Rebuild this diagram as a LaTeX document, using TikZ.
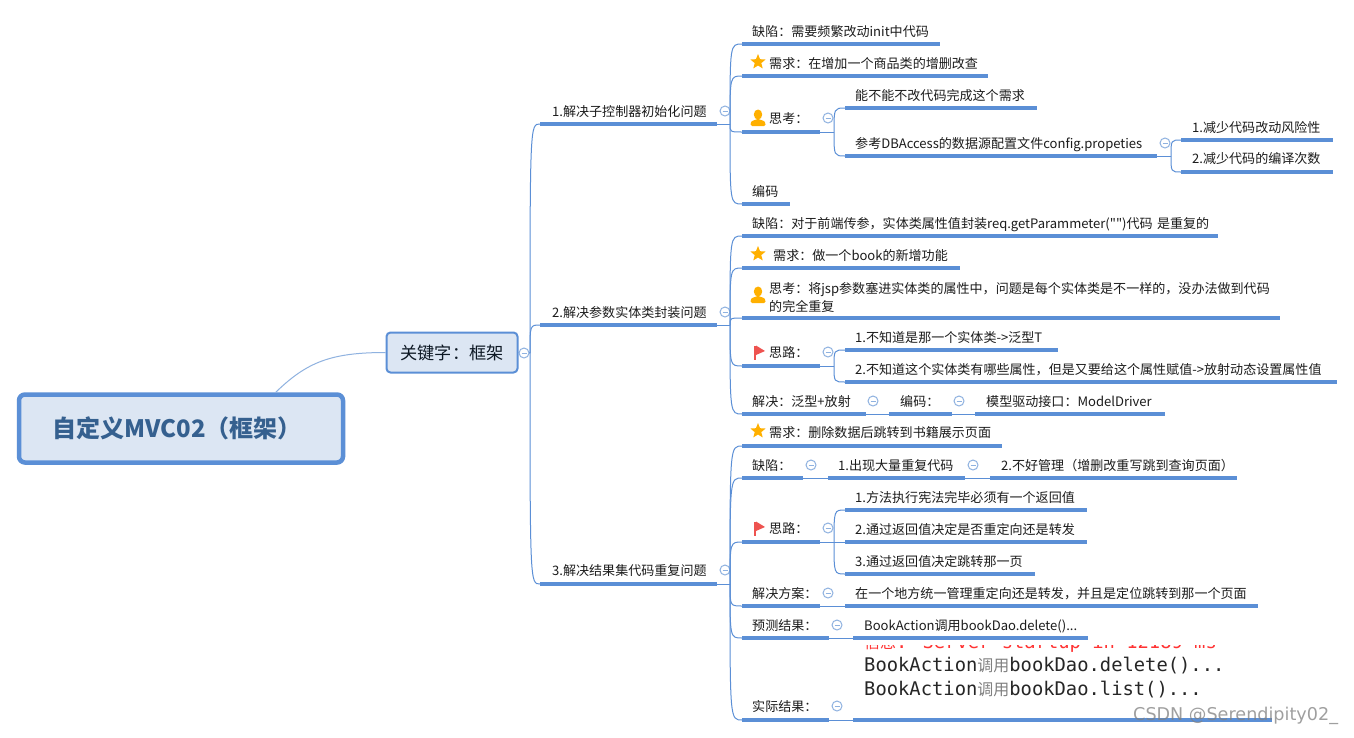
\documentclass[tikz,border=0pt]{standalone}
\usepackage{fontspec}
\setmainfont{Noto Sans CJK SC}
\newfontfamily\cjkf{Noto Sans CJK SC}
\newfontfamily\monof{DejaVu Sans Mono}
\newfontfamily\wmf{DejaVu Sans}
\usetikzlibrary{shapes.geometric,calc}
\definecolor{mblue}{HTML}{5B8FD6}
\definecolor{cblue}{HTML}{8FB2E0}
\definecolor{pale}{HTML}{DCE6F3}
\definecolor{rootink}{HTML}{35608F}
\definecolor{ink}{HTML}{1C1C1C}
\definecolor{amber}{HTML}{FFB000}
\definecolor{flagred}{HTML}{EE5350}
\tikzset{
  topicnode/.style={draw=none,inner sep=0pt,anchor=south west,align=left,text=ink,
    font=\fontsize{13.05}{18}\selectfont,text height=12pt,text depth=0pt},
  uline/.style={draw=mblue,line width=3.2pt},
  thinl/.style={draw=mblue,line width=1pt},
  coll/.style={circle,draw=cblue,fill=white,line width=1pt,minimum size=10pt,inner sep=0pt,
    path picture={\draw[cblue,line width=1pt] ([xshift=2.5pt]path picture bounding box.west) -- ([xshift=-2.5pt]path picture bounding box.east);}},
  rootbox/.style={draw=mblue,fill=pale,line width=4.5pt,rounded corners=6pt,minimum width=324pt,minimum height=68pt,
    inner sep=0pt,text=rootink,font=\fontsize{24}{28}\bfseries\selectfont},
  subbox/.style={draw=mblue,fill=pale,line width=2pt,rounded corners=4pt,minimum width=131pt,minimum height=40pt,
    inner sep=0pt,text=black!75!rootink,font=\fontsize{17.2}{20}\selectfont},
  shot/.style={inner sep=0pt,anchor=base west,font=\monof\fontsize{18.8}{22}\selectfont,text=black!85},
  starmark/.pic={\node[star,star points=5,star point ratio=2.3,fill=amber,inner sep=0pt,minimum size=16pt] at (0,-1) {};},
  personmark/.pic={\fill[amber] (0,-3.5) ellipse (4.2pt and 5pt);
    \fill[amber,rounded corners=1.5pt] (-7.5,8) -- (-7.5,5) .. controls (-6,2.5) and (-3,2) .. (-2,1) -- (2,1) .. controls (3,2) and (6,2.5) .. (7.5,5) -- (7.5,8) -- cycle;},
  flagmark/.pic={\fill[flagred] (-4,-6.5) rectangle (-2,8); \fill[flagred] (-2,-6.5) -- (7,-1) -- (-2,3) -- cycle;}
}
% name, x1, x2, y of rule, y of text centre, x of text, text
\newcommand{\tp}[8][]{%
  \pgfmathsetmacro{\tpw}{#4-#3}\pgfmathsetmacro{\tph}{2*(#5-#6)}\pgfmathsetmacro{\tpd}{#7-#3}%
  \node[topicnode,text width=\tpw pt,minimum height=\tph pt,#1] (#2) at (#3,#5) {\hspace*{\tpd pt}#8};
  \draw[uline] (#2.south west) -- (#2.south east);}
% spine coordinate, child node
\newcommand{\conn}[2]{\draw[thinl] (#1) .. controls (#1 |- #2.south west) and (#1 |- #2.south west) .. (#2.south west);}
\begin{document}
\begin{tikzpicture}[x=1pt,y=-1pt]
\useasboundingbox (0,0) rectangle (1354,737);
\fill[white] (0,0) rectangle (1354,737);
% root and key node
\node[rootbox] (root) at (181,428.5) {\hspace*{-8pt}\raisebox{-1pt}{自定义MVC02（框架）}};
\node[subbox] (key) at (452,352.5) {关键字：框架};
\draw[thinl,cblue] ($(root.north west)+(259,0)$) .. controls ($(root.north west)+(290,-30)$) and ($(key.west)+(-55,0)$) .. (key.west);
\coordinate (sp0) at (530,353);
\draw[thinl] (key.east) -- (sp0);
\node[coll] (c0) at (524,353) {};

% ---------- level 1
\tp{t1}{540}{717}{124}{111}{552}{1.解决子控制器初始化问题}
\tp{t2}{540}{717}{325}{312}{552}{2.解决参数实体类封装问题}
\tp{t3}{540}{717}{584}{570}{552}{3.解决结果集代码重复问题}
\conn{sp0}{t1}\conn{sp0}{t2}\conn{sp0}{t3}
\node[coll] (c1) at (725,111) {};
\node[coll] (c2) at (725,312) {};
\node[coll] (c3) at (725,570) {};
\coordinate (s1) at (730,124);\coordinate (s2) at (730,325);\coordinate (s3) at (730,584);
\draw[thinl] (t1.south east) -- (s1);
\draw[thinl] (t2.south east) -- (s2);
\draw[thinl] (t3.south east) -- (s3);

% ---------- group 1
\tp{a1}{742}{940}{44}{31}{752}{缺陷：需要频繁改动init中代码}
\tp{a2}{742}{988}{76}{63}{769}{需求：在增加一个商品类的增删改查}
\tp{a3}{742}{820}{132}{118}{769}{思考：}
\tp{a4}{742}{790}{204}{191}{752}{编码}
\conn{s1}{a1}\conn{s1}{a2}\conn{s1}{a3}\conn{s1}{a4}
\pic at (758,63) {starmark};
\pic at (758,118) {personmark};
\node[coll] (ca3) at (828,118) {};
\coordinate (sa3) at (834,132);
\draw[thinl] (a3.south east) -- (sa3);
\tp{a31}{845}{1037}{108}{95}{855}{能不能不改代码完成这个需求}
\tp{a32}{845}{1157}{156}{143}{855}{参考DBAccess的数据源配置文件config.propeties}
\conn{sa3}{a31}\conn{sa3}{a32}
\node[coll] (ca32) at (1165,143) {};
\coordinate (sa32) at (1171,156);
\draw[thinl] (a32.south east) -- (sa32);
\tp{a321}{1181}{1333}{140}{127}{1192}{1.减少代码改动风险性}
\tp{a322}{1181}{1333}{172}{158}{1192}{2.减少代码的编译次数}
\conn{sa32}{a321}\conn{sa32}{a322}

% ---------- group 2
\tp{b1}{742}{1218}{236}{223}{752}{\mbox{缺陷：对于前端传参，实体类属性值封装req.getParammeter({\cjkf ""})代码 是重复的}}
\tp{b2}{742}{960}{268}{255}{773}{需求：做一个book的新增功能}
\tp[text depth=16pt]{b3}{742}{1280}{318}{296}{769}{思考：将jsp参数塞进实体类的属性中，问题是每个实体类是不一样的，没办法做到代码\\\hspace*{27pt}的完全重复}
\tp{b4}{742}{820}{366}{352}{769}{思路：}
\tp{b5}{742}{866}{414}{401}{752}{解决：泛型+放射}
\conn{s2}{b1}\conn{s2}{b2}\conn{s2}{b3}\conn{s2}{b4}\conn{s2}{b5}
\pic at (758,255) {starmark};
\pic at (758,295) {personmark};
\pic at (758,352) {flagmark};
\node[coll] (cb4) at (828,352) {};
\coordinate (sb4) at (834,366);
\draw[thinl] (b4.south east) -- (sb4);
\tp{b41}{845}{1058}{350}{337}{855}{1.不知道是那一个实体类->泛型T}
\tp{b42}{845}{1337}{382}{369}{855}{2.不知道这个实体类有哪些属性，但是又要给这个属性赋值->放射动态设置属性值}
\conn{sb4}{b41}\conn{sb4}{b42}
\tp{b51}{889}{952}{414}{401}{900}{编码：}
\tp{b52}{975}{1165}{414}{401}{986}{模型驱动接口：ModelDriver}
\draw[thinl] (b5.south east) -- (b51.south west);
\draw[thinl] (b51.south east) -- (b52.south west);
\node[coll] (cb5) at (873,401) {};
\node[coll] (cb51) at (959,401) {};

% ---------- group 3
\tp{d1}{742}{1002}{446}{432}{769}{需求：删除数据后跳转到书籍展示页面}
\tp{d2}{742}{803}{478}{465}{752}{缺陷：}
\tp{d3}{742}{820}{542}{528}{769}{思路：}
\tp{d4}{742}{820}{606}{593}{752}{解决方案：}
\tp{d5}{742}{829}{638}{625}{752}{预测结果：}
\tp{d6}{742}{829}{720}{706}{752}{实际结果：}
\conn{s3}{d1}\conn{s3}{d2}\conn{s3}{d3}\conn{s3}{d4}\conn{s3}{d5}\conn{s3}{d6}
\pic at (758,432) {starmark};
\pic at (758,528) {flagmark};
\tp{d21}{828}{965}{478}{465}{838}{1.出现大量重复代码}
\tp{d22}{990}{1237}{478}{465}{1001}{2.不好管理（增删改重写跳到查询页面）}
\draw[thinl] (d2.south east) -- (d21.south west);
\draw[thinl] (d21.south east) -- (d22.south west);
\node[coll] (cd2) at (811,465) {};
\node[coll] (cd21) at (973,465) {};
\node[coll] (cd3) at (828,528) {};
\coordinate (sd3) at (834,542);
\draw[thinl] (d3.south east) -- (sd3);
\tp{d31}{845}{1087}{510}{497}{855}{1.方法执行宪法完毕必须有一个返回值}
\tp{d32}{845}{1087}{542}{529}{855}{2.通过返回值决定是否重定向还是转发}
\tp{d33}{845}{1035}{574}{561}{855}{3.通过返回值决定跳转那一页}
\conn{sd3}{d31}\conn{sd3}{d32}\conn{sd3}{d33}
\tp{d41}{845}{1258}{606}{593}{855}{在一个地方统一管理重定向还是转发，并且是定位跳转到那一个页面}
\draw[thinl] (d4.south east) -- (d41.south west);
\node[coll] (cd4) at (828,593) {};
\tp{d51}{853}{1088}{638}{625}{864}{BookAction调用bookDao.delete()...}
\draw[thinl] (d5.south east) -- (d51.south west);
\node[coll] (cd5) at (837,625) {};
\tp{d61}{853}{1272}{720}{706}{864}{}
\draw[thinl] (d6.south east) -- (d61.south west);
\node[coll] (cd6) at (837,706) {};
% pasted console screenshot
\begin{scope}
\clip (860,645) rectangle (1225,653);
\node[shot,text=red!80] (r0) at (864,648.5) {{\cjkf\fontsize{16}{20}\selectfont 信息}: Server startup in 12189 ms};
\end{scope}
\node[shot] (r1) at (864,671) {BookAction{\cjkf\fontsize{16}{20}\selectfont\color{black!50}调用}bookDao.delete()...};
\node[shot] (r2) at (864,695) {BookAction{\cjkf\fontsize{16}{20}\selectfont\color{black!50}调用}bookDao.list()...};
% watermark
\node[inner sep=0pt,anchor=west,text=black!50,opacity=.75,font=\wmf\fontsize{17.6}{20}\selectfont] (wm) at (1133,716) {CSDN @Serendipity02\_};
\end{tikzpicture}
\end{document}
